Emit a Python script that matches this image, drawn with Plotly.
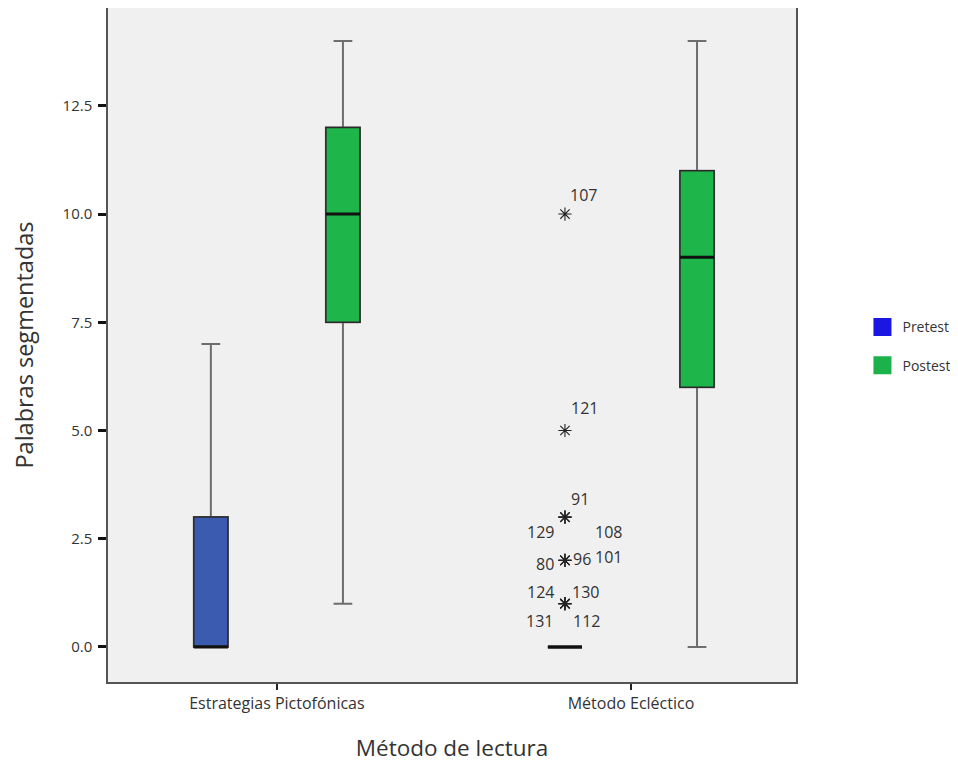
import plotly.graph_objects as go

categories = ["Estrategias Pictofónicas", "Método Ecléctico"]

pre_q1 = [0, 0]
pre_median = [0, 0]
pre_q3 = [3, 0]
pre_lower = [0, 0]
pre_upper = [7, 0]

post_q1 = [7.5, 6]
post_median = [10, 9]
post_q3 = [12, 11]
post_lower = [1, 0]
post_upper = [14, 14]

outlier_values = [10, 5, 3, 3, 3, 2, 2, 2, 1, 1, 1, 1]
outlier_ids = ["107", "121", "91", "129", "108", "80", "96", "101", "124", "130", "131", "112"]

y_ticks = [0, 2.5, 5, 7.5, 10, 12.5]

FONT = "Open Sans"
pre_fill = "#3a5bb0"
post_fill = "#1eb54a"
pre_legend = "#1b16e3"
post_legend = "#1cb24b"

fig = go.Figure()

def add_layers(name, q1, med, q3, lo, up, fill):
    # whiskers (grey)
    fig.add_trace(go.Box(
        x=categories, q1=q1, median=med, q3=q3, lowerfence=lo, upperfence=up,
        fillcolor=fill, line=dict(color="#6d6d6d", width=2), whiskerwidth=0.55,
        offsetgroup=name, alignmentgroup="a", boxpoints=False, orientation="v",
        showlegend=False, hoverinfo="skip"))
    # body (dark outline)
    fig.add_trace(go.Box(
        x=categories, q1=q1, median=med, q3=q3, lowerfence=q1, upperfence=q3,
        fillcolor=fill, line=dict(color="#2a2a2a", width=1.5), whiskerwidth=0,
        offsetgroup=name, alignmentgroup="a", boxpoints=False, orientation="v",
        showlegend=False, hoverinfo="skip"))
    # median (thick black)
    fig.add_trace(go.Box(
        x=categories, q1=med, median=med, q3=med, lowerfence=med, upperfence=med,
        fillcolor="rgba(0,0,0,0)", line=dict(color="#111111", width=3), whiskerwidth=0,
        offsetgroup=name, alignmentgroup="a", boxpoints=False, orientation="v",
        showlegend=False, hoverinfo="skip"))

add_layers("pre", pre_q1, pre_median, pre_q3, pre_lower, pre_upper, pre_fill)
add_layers("post", post_q1, post_median, post_q3, post_lower, post_upper, post_fill)

# extreme values of Pretest / Método Ecléctico
fig.add_trace(go.Box(
    x=[categories[1]], q1=[pre_q1[1]], median=[pre_median[1]], q3=[pre_q3[1]],
    lowerfence=[pre_lower[1]], upperfence=[pre_upper[1]], y=[outlier_values],
    fillcolor="rgba(0,0,0,0)", line=dict(color="#111111", width=3), whiskerwidth=0,
    offsetgroup="pre", alignmentgroup="a", orientation="v",
    boxpoints="outliers", pointpos=0, jitter=0,
    marker=dict(symbol="asterisk-open", size=11, color="#222222",
                line=dict(color="#222222", width=1.1)),
    showlegend=False, hoverinfo="skip"))

# legend entries
fig.add_trace(go.Scatter(x=[None], y=[None], mode="markers", name="Pretest",
                         legendgroup="g1",
                         marker=dict(symbol="square", size=16, color=pre_legend,
                                     line=dict(color=pre_legend, width=2))))
fig.add_trace(go.Scatter(x=[None], y=[None], mode="markers", name="Postest",
                         legendgroup="g2",
                         marker=dict(symbol="square", size=16, color=post_legend,
                                     line=dict(color=post_legend, width=2))))

# outlier case labels (pixel offsets relative to the Ecléctico category centre)
label_offsets = [(-47, 19), (-46, 23), (-51, 18), (-90, -15), (-22, -15),
                 (-86, -4), (-49, 1), (-22, 3), (-90, 12), (-45, 12),
                 (-91, -17), (-44, -17)]
for val, cid, (dx, dy) in zip(outlier_values, outlier_ids, label_offsets):
    fig.add_annotation(x=categories[1], y=val, text=cid, showarrow=False,
                       xshift=dx, yshift=dy,
                       font=dict(family=FONT, size=16, color="#333333"))

fig.update_layout(
    width=958, height=761,
    margin=dict(l=100, r=170, t=0, b=87, autoexpand=False),
    paper_bgcolor="white", plot_bgcolor="#f0f0f0",
    boxmode="group", boxgap=0.254, boxgroupgap=0.742,
    font=dict(family=FONT, color="#333333"),
    legend=dict(x=1.0966, y=0.498, xanchor="left", yanchor="middle",
                font=dict(family=FONT, size=14, color="#333333"),
                tracegroupgap=17, bgcolor="rgba(0,0,0,0)"),
)
fig.update_xaxes(
    type="category", categoryorder="array", categoryarray=categories,
    range=[-0.477, 1.466],
    showgrid=False, zeroline=False,
    showline=True, mirror=True, linecolor="#555555", linewidth=1.5,
    ticks="outside", ticklen=6, tickwidth=2, tickcolor="#222222",
    tickfont=dict(family=FONT, size=16, color="#333333"),
    title=dict(text="Método de lectura", font=dict(family=FONT, size=22.5, color="#333333"),
               standoff=27),
)
fig.update_yaxes(
    range=[-0.809, 14.76],
    tickvals=y_ticks, tickformat=".1f",
    showgrid=False, zeroline=False,
    showline=True, mirror=True, linecolor="#555555", linewidth=1.5,
    ticks="outside", ticklen=8, tickwidth=3, tickcolor="#111111",
    ticklabelstandoff=3,
    tickfont=dict(family=FONT, size=15, color="#333333"),
    title=dict(text="Palabras segmentadas", font=dict(family=FONT, size=23.5, color="#333333"),
               standoff=22),
)

fig.write_html("out.html")
